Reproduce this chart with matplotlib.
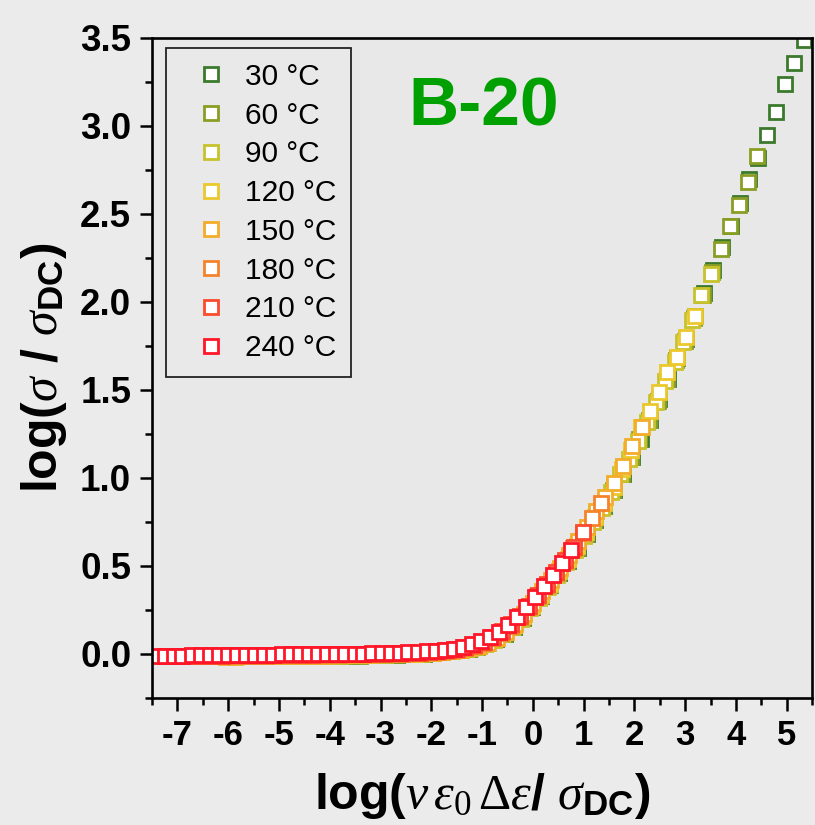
import matplotlib
matplotlib.use("Agg")
import matplotlib.pyplot as plt
from matplotlib.ticker import MultipleLocator

plt.rcParams["font.family"] = ["Liberation Sans", "DejaVu Sans"]
plt.rcParams["mathtext.fontset"] = "custom"
plt.rcParams["mathtext.it"] = "Liberation Serif:italic"
plt.rcParams["mathtext.rm"] = "Liberation Serif"
plt.rcParams["mathtext.bf"] = "Liberation Sans:bold"
plt.rcParams["axes.unicode_minus"] = False

labels = ["30 °C", "60 °C", "90 °C", "120 °C", "150 °C", "180 °C", "210 °C", "240 °C"]
colors = ["#3b7a2c", "#8a9e24", "#c8c22c", "#ebc82c", "#f2ad2a", "#f5832c", "#fb4b2d", "#ff1628"]

# log(nu eps0 deps / sigma_dc) and log(sigma / sigma_dc) for every temperature
x_30 = [-2.86, -2.68, -2.50, -2.33, -2.15, -1.97, -1.79, -1.61, -1.44, -1.26, -1.08, -0.90,
        -0.72, -0.55, -0.37, -0.19, -0.01, 0.17, 0.34, 0.52, 0.70, 0.88, 1.06, 1.23, 1.41,
        1.59, 1.77, 1.95, 2.12, 2.30, 2.48, 2.66, 2.84, 3.01, 3.19, 3.37, 3.55, 3.73, 3.90,
        4.08, 4.26, 4.44, 4.62, 4.79, 4.97, 5.15, 5.33]
y_30 = [-0.006, -0.004, -0.002, 0.000, 0.002, 0.005, 0.009, 0.014, 0.021, 0.030, 0.043, 0.060,
        0.084, 0.115, 0.155, 0.205, 0.265, 0.33, 0.39, 0.46, 0.53, 0.60, 0.68, 0.76, 0.84,
        0.93, 1.02, 1.12, 1.22, 1.33, 1.45, 1.56, 1.68, 1.79, 1.92, 2.05, 2.18, 2.31, 2.43,
        2.56, 2.70, 2.82, 2.95, 3.08, 3.24, 3.36, 3.49]

x_60 = [-3.77, -3.59, -3.41, -3.24, -3.06, -2.88, -2.70, -2.52, -2.35, -2.17, -1.99, -1.81,
        -1.63, -1.46, -1.28, -1.10, -0.92, -0.74, -0.57, -0.39, -0.21, -0.03, 0.15, 0.32,
        0.50, 0.68, 0.86, 1.04, 1.21, 1.39, 1.57, 1.75, 1.93, 2.10, 2.28, 2.46, 2.64, 2.82,
        2.99, 3.17, 3.35, 3.53, 3.71, 3.88, 4.06, 4.24, 4.42]
y_60 = [-0.011, -0.010, -0.009, -0.008, -0.007, -0.005, -0.004, -0.002, 0.000, 0.002, 0.005,
        0.009, 0.014, 0.021, 0.030, 0.042, 0.060, 0.084, 0.115, 0.155, 0.205, 0.265, 0.33,
        0.39, 0.46, 0.53, 0.60, 0.68, 0.76, 0.84, 0.93, 1.02, 1.12, 1.22, 1.33, 1.44, 1.56,
        1.67, 1.78, 1.91, 2.04, 2.17, 2.30, 2.43, 2.55, 2.68, 2.83]

x_90 = [-4.69, -4.51, -4.33, -4.16, -3.98, -3.80, -3.62, -3.44, -3.27, -3.09, -2.91, -2.73,
        -2.55, -2.38, -2.20, -2.02, -1.84, -1.66, -1.49, -1.31, -1.13, -0.95, -0.77, -0.60,
        -0.42, -0.24, -0.06, 0.12, 0.29, 0.47, 0.65, 0.83, 1.01, 1.18, 1.36, 1.54, 1.72,
        1.90, 2.07, 2.25, 2.43, 2.61, 2.79, 2.96, 3.14, 3.32, 3.50]
y_90 = [-0.014, -0.013, -0.012, -0.011, -0.010, -0.009, -0.008, -0.007, -0.006, -0.005,
        -0.004, -0.003, -0.002, 0.000, 0.002, 0.005, 0.009, 0.014, 0.020, 0.029, 0.041, 0.058,
        0.082, 0.112, 0.152, 0.20, 0.26, 0.32, 0.38, 0.45, 0.52, 0.59, 0.67, 0.75, 0.83, 0.92,
        1.02, 1.11, 1.21, 1.32, 1.43, 1.55, 1.66, 1.77, 1.90, 2.04, 2.16]

x_120 = [-5.00, -4.82, -4.64, -4.47, -4.29, -4.11, -3.93, -3.75, -3.58, -3.40, -3.22, -3.04,
         -2.86, -2.69, -2.51, -2.33, -2.15, -1.97, -1.80, -1.62, -1.44, -1.26, -1.08, -0.91,
         -0.73, -0.55, -0.37, -0.19, -0.02, 0.16, 0.34, 0.52, 0.70, 0.87, 1.05, 1.23, 1.41,
         1.59, 1.76, 1.94, 2.12, 2.30, 2.48, 2.65, 2.83, 3.01, 3.19]
y_120 = [-0.014, -0.013, -0.012, -0.011, -0.010, -0.009, -0.008, -0.007, -0.006, -0.005,
         -0.004, -0.003, -0.002, -0.001, 0.000, 0.002, 0.004, 0.007, 0.011, 0.016, 0.023,
         0.032, 0.045, 0.062, 0.088, 0.122, 0.165, 0.215, 0.275, 0.335, 0.40, 0.47, 0.54,
         0.615, 0.695, 0.78, 0.86, 0.95, 1.05, 1.16, 1.29, 1.38, 1.49, 1.60, 1.69, 1.80, 1.92]

x_150 = [-6.05, -5.87, -5.69, -5.52, -5.34, -5.16, -4.98, -4.80, -4.63, -4.45, -4.27, -4.09,
         -3.91, -3.74, -3.56, -3.38, -3.20, -3.02, -2.85, -2.67, -2.49, -2.31, -2.13, -1.96,
         -1.78, -1.60, -1.42, -1.24, -1.07, -0.89, -0.71, -0.53, -0.35, -0.18, 0.00, 0.18,
         0.36, 0.54, 0.71, 0.89, 1.07, 1.25, 1.43, 1.60, 1.78, 1.96, 2.14]
y_150 = [-0.015, -0.015, -0.014, -0.014, -0.013, -0.013, -0.012, -0.012, -0.011, -0.010,
         -0.010, -0.009, -0.008, -0.007, -0.006, -0.005, -0.004, -0.003, -0.002, 0.000, 0.001,
         0.003, 0.005, 0.008, 0.012, 0.017, 0.024, 0.033, 0.046, 0.064, 0.090, 0.125, 0.170,
         0.225, 0.29, 0.355, 0.42, 0.49, 0.56, 0.64, 0.72, 0.81, 0.89, 0.97, 1.07, 1.18, 1.29]

x_180 = [-6.85, -6.67, -6.49, -6.32, -6.14, -5.96, -5.78, -5.60, -5.43, -5.25, -5.07, -4.89,
         -4.71, -4.54, -4.36, -4.18, -4.00, -3.82, -3.65, -3.47, -3.29, -3.11, -2.93, -2.76,
         -2.58, -2.40, -2.22, -2.04, -1.87, -1.69, -1.51, -1.33, -1.15, -0.98, -0.80, -0.62,
         -0.44, -0.26, -0.09, 0.09, 0.27, 0.45, 0.63, 0.80, 0.98, 1.16, 1.34]
y_180 = [-0.013, -0.013, -0.012, -0.012, -0.011, -0.011, -0.010, -0.010, -0.009, -0.009,
         -0.008, -0.008, -0.007, -0.007, -0.006, -0.005, -0.005, -0.004, -0.003, -0.002,
         -0.001, -0.001, 0.000, 0.001, 0.002, 0.004, 0.006, 0.009, 0.013, 0.018, 0.025, 0.034,
         0.047, 0.064, 0.088, 0.12, 0.16, 0.21, 0.265, 0.33, 0.39, 0.46, 0.53, 0.60, 0.69,
         0.77, 0.86]

x_210 = [-7.20, -7.02, -6.84, -6.67, -6.49, -6.31, -6.13, -5.95, -5.78, -5.60, -5.42, -5.24,
         -5.06, -4.89, -4.71, -4.53, -4.35, -4.17, -4.00, -3.82, -3.64, -3.46, -3.28, -3.11,
         -2.93, -2.75, -2.57, -2.39, -2.22, -2.04, -1.86, -1.68, -1.50, -1.33, -1.15, -0.97,
         -0.79, -0.61, -0.44, -0.26, -0.08, 0.10, 0.28, 0.45, 0.63, 0.81, 0.99]
y_210 = [-0.012, -0.011, -0.011, -0.010, -0.010, -0.009, -0.009, -0.008, -0.008, -0.007,
         -0.007, -0.006, -0.006, -0.005, -0.005, -0.004, -0.004, -0.003, -0.003, -0.002,
         -0.001, 0.000, 0.000, 0.001, 0.002, 0.003, 0.004, 0.006, 0.008, 0.011, 0.015, 0.020,
         0.028, 0.038, 0.052, 0.070, 0.095, 0.128, 0.168, 0.218, 0.275, 0.335, 0.40, 0.465,
         0.535, 0.61, 0.695]

x_240 = [-7.43, -7.25, -7.07, -6.90, -6.72, -6.54, -6.36, -6.18, -6.01, -5.83, -5.65, -5.47,
         -5.29, -5.12, -4.94, -4.76, -4.58, -4.40, -4.23, -4.05, -3.87, -3.69, -3.51, -3.34,
         -3.16, -2.98, -2.80, -2.62, -2.45, -2.27, -2.09, -1.91, -1.73, -1.56, -1.38, -1.20,
         -1.02, -0.84, -0.67, -0.49, -0.31, -0.13, 0.05, 0.22, 0.40, 0.58, 0.76]
y_240 = [-0.010, -0.010, -0.009, -0.009, -0.008, -0.008, -0.007, -0.007, -0.006, -0.006,
         -0.005, -0.005, -0.004, -0.004, -0.003, -0.003, -0.002, -0.002, -0.001, -0.001,
         0.000, 0.000, 0.001, 0.002, 0.003, 0.004, 0.005, 0.007, 0.009, 0.011, 0.014, 0.018,
         0.023, 0.030, 0.040, 0.054, 0.072, 0.096, 0.126, 0.165, 0.212, 0.265, 0.325, 0.385,
         0.448, 0.515, 0.59]

xs = [x_30, x_60, x_90, x_120, x_150, x_180, x_210, x_240]
ys = [y_30, y_60, y_90, y_120, y_150, y_180, y_210, y_240]

fig = plt.figure(figsize=(8.15, 8.25), dpi=100, facecolor="#ebebeb")
ax = fig.add_axes([0.1865, 0.154, 0.81, 0.8])
ax.set_facecolor("#e8e8e8")

for x, y, c, lab in zip(xs, ys, colors, labels):
    ax.plot(x, y, ls="none", marker="s", ms=9.5, mfc="white", mec=c, mew=2.0, label=lab)

ax.set_xlim(-7.5, 5.5)
ax.set_ylim(-0.25, 3.5)
ax.xaxis.set_major_locator(MultipleLocator(1))
ax.xaxis.set_minor_locator(MultipleLocator(0.5))
ax.yaxis.set_major_locator(MultipleLocator(0.5))
ax.yaxis.set_minor_locator(MultipleLocator(0.25))
ax.yaxis.set_major_formatter(plt.FormatStrFormatter("%.1f"))

for s in ax.spines.values():
    s.set_linewidth(1.9)
ax.tick_params(which="major", direction="out", length=9, width=1.8, pad=6)
ax.tick_params(which="minor", direction="out", length=5, width=1.8)
ax.tick_params(axis="x", which="major", labelsize=25)
ax.tick_params(axis="y", which="major", labelsize=26.5)
for t in ax.get_xticklabels() + ax.get_yticklabels():
    t.set_fontweight("bold")

ax.set_xlabel(r"log($\nu\,\varepsilon_0\,\Delta\varepsilon$/ $\sigma_{\mathbf{DC}}$)",
              fontsize=36, fontweight="bold", labelpad=14)
ax.set_ylabel(r"log($\sigma$ / $\sigma_{\mathbf{DC}}$)",
              fontsize=36, fontweight="bold", labelpad=8)

ax.text(0.502, 0.894, "B-20", transform=ax.transAxes, ha="center", va="center",
        fontsize=50, fontweight="bold", color="#00a000")

leg = ax.legend(loc="upper left", bbox_to_anchor=(0.021, 0.985), borderaxespad=0,
                fontsize=21.5, handlelength=2.0, handletextpad=0.15, labelspacing=0.36,
                borderpad=0.5, fancybox=False, framealpha=1, facecolor="#e9e9e9",
                edgecolor="#222222")
leg.get_frame().set_linewidth(1.3)

fig.savefig("out.png", dpi=100, facecolor=fig.get_facecolor())
